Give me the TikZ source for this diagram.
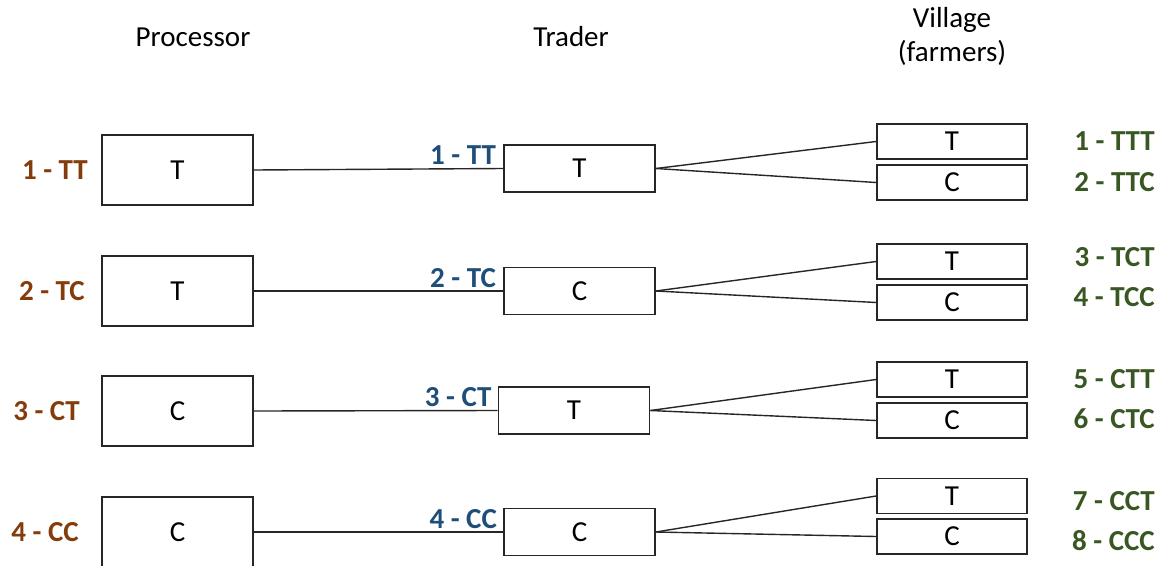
\documentclass[tikz,border=0pt]{standalone}
\usepackage{fontspec}
\setmainfont{Carlito}
\definecolor{procbrown}{HTML}{843C0C}
\definecolor{tradblue}{HTML}{1F4E79}
\definecolor{villgreen}{HTML}{385723}
\tikzset{
  box/.style={draw=black!85, line width=1.8pt, fill=white, inner sep=0pt, font=\fontsize{29}{35}\selectfont},
  procbox/.style={box, minimum width=151pt, minimum height=70pt},
  tradbox/.style={box, minimum width=151pt, minimum height=47pt},
  villbox/.style={box, minimum width=150pt, minimum height=35pt},
  conn/.style={draw=black!85, line width=1.4pt},
  plab/.style={text=procbrown, font=\fontsize{29}{35}\selectfont\bfseries, inner sep=0pt, anchor=east},
  tlab/.style={text=tradblue, font=\fontsize{29}{35}\selectfont\bfseries, inner sep=0pt, anchor=base east},
  vlab/.style={text=villgreen, font=\fontsize{29}{35}\selectfont\bfseries, inner sep=0pt, anchor=east},
  head/.style={font=\fontsize{29}{34}\selectfont, inner sep=0pt, align=center}
}
\begin{document}
\begin{tikzpicture}[x=1pt, y=-1pt]
\useasboundingbox (0,0) rectangle (1161,565);
% headers
\node[head] (hp) at (193,37) {Processor};
\node[head] (ht) at (571,37) {Trader};
\node[head] (hv) at (952,36) {Village\\(farmers)};
% processor boxes
\node[procbox] (p1) at (177.5,170) {T};
\node[procbox] (p2) at (177.5,291) {T};
\node[procbox] (p3) at (177.5,411) {C};
\node[procbox] (p4) at (177.5,532) {C};
% trader boxes
\node[tradbox] (t1) at (579.5,168.5) {T};
\node[tradbox] (t2) at (579.5,291) {C};
\node[tradbox] (t3) at (574,410.5) {T};
\node[tradbox] (t4) at (579.5,532) {C};
% village boxes
\node[villbox] (v1t) at (952,141.5) {T};
\node[villbox] (v1c) at (952,182.5) {C};
\node[villbox] (v2t) at (952,261.5) {T};
\node[villbox] (v2c) at (952,302.5) {C};
\node[villbox] (v3t) at (952,379.5) {T};
\node[villbox] (v3c) at (952,420.5) {C};
\node[villbox] (v4t) at (952,496) {T};
\node[villbox] (v4c) at (952,536.5) {C};
% connectors
\foreach \i in {1,2,3,4}{
  \draw[conn] (p\i.east) -- (t\i.west);
  \draw[conn] (t\i.east) -- (v\i t.west);
  \draw[conn] (t\i.east) -- (v\i c.west);
}
% processor labels
\node[plab] (pl1) at (88,170) {1 - TT};
\node[plab] (pl2) at (85,291) {2 - TC};
\node[plab] (pl3) at (80,411) {3 - CT};
\node[plab] (pl4) at (79,532) {4 - CC};
% trader labels
\node[tlab] (tl1) at ([xshift=-7pt,yshift=4pt]t1.west) {1 - TT};
\node[tlab] (tl2) at ([xshift=-7pt,yshift=4pt]t2.west) {2 - TC};
\node[tlab] (tl3) at ([xshift=-6pt,yshift=4pt]t3.west) {3 - CT};
\node[tlab] (tl4) at ([xshift=-6pt,yshift=4pt]t4.west) {4 - CC};
% village labels
\node[vlab] (vl1) at (1155,141.5) {1 - TTT};
\node[vlab] (vl2) at (1155,182.5) {2 - TTC};
\node[vlab] (vl3) at (1155,257.5) {3 - TCT};
\node[vlab] (vl4) at (1155,297.5) {4 - TCC};
\node[vlab] (vl5) at (1155,379.5) {5 - CTT};
\node[vlab] (vl6) at (1155,418.5) {6 - CTC};
\node[vlab] (vl7) at (1155,501) {7 - CCT};
\node[vlab] (vl8) at (1155,540.5) {8 - CCC};
\end{tikzpicture}
\end{document}
